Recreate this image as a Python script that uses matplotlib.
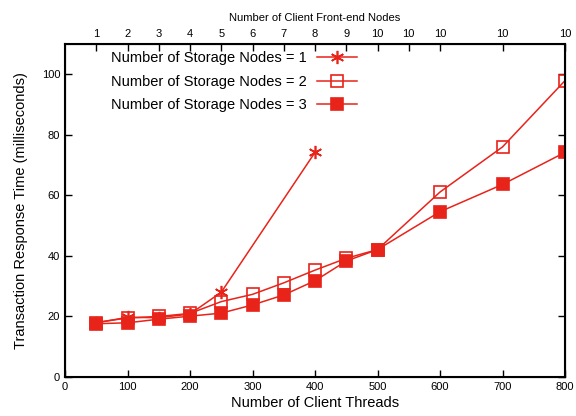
import matplotlib
matplotlib.use("Agg")
import matplotlib.pyplot as plt

plt.rcParams['font.family'] = ['Liberation Sans', 'DejaVu Sans']

threads1 = [50, 100, 150, 200, 250, 400]
resp1 = [17.9, 19.7, 19.6, 20.8, 28.0, 74.2]

threads = [50, 100, 150, 200, 250, 300, 350, 400, 450, 500, 600, 700, 800]
resp2 = [18.0, 19.5, 20.0, 21.0, 24.9, 27.3, 31.1, 35.3, 39.2, 42.1, 61.1, 76.0, 97.9]
resp3 = [17.6, 17.9, 19.1, 20.1, 21.1, 23.8, 27.1, 31.8, 38.3, 42.1, 54.6, 63.6, 74.2]

top_ticks = [50, 100, 150, 200, 250, 300, 350, 400, 450, 500, 550, 600, 700, 800]
top_labels = ['1', '2', '3', '4', '5', '6', '7', '8', '9', '10', '10', '10', '10', '10']

red = '#e8231a'

fig = plt.figure(figsize=(5.76, 4.16), dpi=100)
ax = fig.add_axes([65/576, 39/416, 500/576, 333/416])

ax.plot(threads1, resp1, color=red, lw=1.1, marker=(6, 2, 0), ms=9.5, mew=1.2,
        label='Number of Storage Nodes = 1')
ax.plot(threads, resp2, color=red, lw=1.1, marker='s', ms=8.2, mfc='none', mew=1.2,
        label='Number of Storage Nodes = 2')
ax.plot(threads, resp3, color=red, lw=1.1, marker='s', ms=8.2, mew=1.2,
        label='Number of Storage Nodes = 3')

ax.set_xlim(0, 800)
ax.set_ylim(0, 110)
ax.set_xticks(range(0, 801, 100))
ax.set_yticks(range(0, 101, 20))
ax.tick_params(direction='in', labelsize=8, length=5, right=True, width=1)
for s in ax.spines.values():
    s.set_linewidth(1.5)

ax.set_xlabel('Number of Client Threads', fontsize=10.5, labelpad=3)
ax.set_ylabel('Transaction Response Time (milliseconds)', fontsize=10.5, labelpad=10)

ax2 = ax.twiny()
ax2.set_xlim(0, 800)
ax2.set_xticks(top_ticks)
ax2.set_xticklabels(top_labels)
ax2.tick_params(direction='in', labelsize=8, length=5, width=1)
ax2.set_xlabel('Number of Client Front-end Nodes', fontsize=8, labelpad=6)

leg = ax.legend(loc='upper left', bbox_to_anchor=(0.066, 1.018), frameon=False,
                markerfirst=False, fontsize=10.5, handlelength=2.75,
                labelspacing=0.65, handletextpad=0.7)

fig.savefig('out.png', dpi=100)
